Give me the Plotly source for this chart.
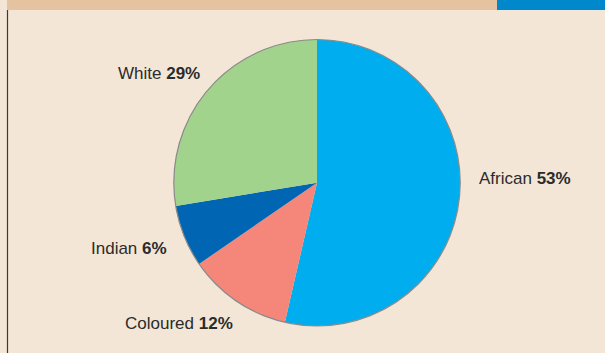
import plotly.graph_objects as go

labels = ["African", "Coloured", "Indian", "White"]
shares = [53.6, 11.8, 7.0, 27.6]
# percentages printed in the labels
pct_text = [53, 12, 6, 29]
colors = ["#00AEEF", "#F4877A", "#0066B3", "#A2D38C"]
# label anchor positions (pixels) for the outside text
label_px = [(525, 178), (179, 323), (129, 248), (159, 73)]

W, H = 605, 353
cx, cy, r = 317, 182.7, 143.2

def px(x):
    return x / W

def py(y):
    return 1 - y / H

dom_x = [px(cx - r), px(cx + r)]
dom_y = [py(cy + r), py(cy - r)]

fig = go.Figure()
fig.add_trace(go.Pie(
    labels=labels, values=shares, sort=False, direction="clockwise",
    rotation=0, marker=dict(colors=colors, line=dict(width=0)),
    textinfo="none", hoverinfo="label+percent", showlegend=False,
    domain=dict(x=dom_x, y=dom_y),
))
fig.add_trace(go.Pie(
    labels=["outline"], values=[1], sort=False,
    marker=dict(colors=["rgba(0,0,0,0)"], line=dict(width=1.2, color="#8a8a8a")),
    textinfo="none", hoverinfo="skip", showlegend=False,
    domain=dict(x=dom_x, y=dom_y),
))

for lab, v, (x, y) in zip(labels, pct_text, label_px):
    fig.add_annotation(
        x=px(x), y=py(y), xref="paper", yref="paper",
        text=f"{lab} <b>{v}%</b>", showarrow=False,
        xanchor="center", yanchor="middle",
        font=dict(family="Liberation Sans, Arial, sans-serif", size=17, color="#2b2b2b"),
    )

shapes = [
    dict(type="rect", xref="paper", yref="paper", x0=px(7), x1=px(497), y0=py(10), y1=1,
         fillcolor="#E5C3A0", line=dict(width=0), layer="below"),
    dict(type="rect", xref="paper", yref="paper", x0=px(497), x1=1, y0=py(10), y1=1,
         fillcolor="#0088CC", line=dict(width=0), layer="below"),
    dict(type="line", xref="paper", yref="paper", x0=px(7.5), x1=px(7.5), y0=0, y1=py(10),
         line=dict(width=1.2, color="#3a3a3a")),
]

fig.update_layout(
    width=W, height=H, margin=dict(l=0, r=0, t=0, b=0),
    paper_bgcolor="#F3E6D6", plot_bgcolor="#F3E6D6",
    shapes=shapes,
)
fig.write_html("out.html")
